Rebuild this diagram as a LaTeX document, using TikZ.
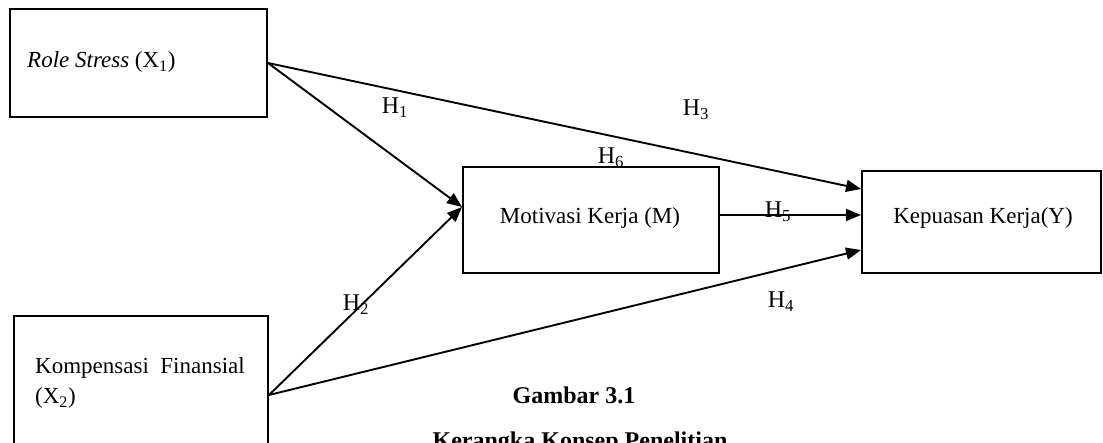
\documentclass[tikz,border=0pt]{standalone}
\usepackage{fontspec}
\setmainfont{Liberation Serif}
\usetikzlibrary{arrows.meta,calc}
\begin{document}
\begin{tikzpicture}[x=1pt,y=-1pt,
  box/.style={draw=black,line width=2pt,rectangle,inner sep=0pt},
  txt/.style={font=\fontsize{23}{29}\selectfont,inner sep=0pt},
  hlab/.style={font=\fontsize{24}{28}\selectfont,inner sep=0pt},
  arr/.style={line width=1.9pt,-{Triangle[length=15pt,width=12pt]}},
  captxt/.style={font=\fontsize{24}{28}\selectfont\bfseries,inner sep=0pt}]
\fill[white] (0,0) rectangle (1103,443);
\useasboundingbox (0,0) rectangle (1103,443);
\clip (0,0) rectangle (1103,443);
% boxes
\node[box,minimum width=257pt,minimum height=108pt] (rs) at (138.5,63) {};
\node[box,minimum width=256pt,minimum height=106pt] (mk) at (591,220) {};
\node[box,minimum width=239pt,minimum height=102pt] (kp) at (981.5,222) {};
\node[box,minimum width=254pt,minimum height=158pt] (kf) at (141,395) {};
% texts
\node[txt,anchor=west] (rst) at (27,62) {\textit{Role Stress} (X\textsubscript{1})};
\node[txt] (mkt) at (590,218) {Motivasi Kerja (M)};
\node[txt] (kpt) at (983,218) {Kepuasan Kerja(Y)};
\node[txt,anchor=west] (kft1) at (35,368) {Kompensasi\ \ Finansial};
\node[txt,anchor=west] (kft2) at (35,398) {(X\textsubscript{2})};
% connector endpoints
\coordinate (m1) at ([yshift=13pt]mk.west);
\coordinate (k3) at ([yshift=33pt]kp.west);
\coordinate (k5) at ([yshift=7pt]kp.west);
\coordinate (k4) at ([yshift=-28pt]kp.west);
\coordinate (m5) at (mk.east |- k5);
% arrows
\draw[arr] (rs.east) -- (m1);
\draw[arr] (kf.east) -- (m1);
\draw[arr] (rs.east) -- (k3);
\draw[arr] (kf.east) -- (k4);
\draw[arr] (m5) -- (k5);
% labels
\node[hlab] (h1) at (395,108) {H\textsubscript{1}};
\node[hlab] (h2) at (356,305) {H\textsubscript{2}};
\node[hlab] (h3) at (696,110) {H\textsubscript{3}};
\node[hlab] (h4) at (781,302) {H\textsubscript{4}};
\node[hlab] (h5) at (778,212) {H\textsubscript{5}};
\node[hlab] (h6) at (611,158) {H\textsubscript{6}};
% caption
\node[captxt] (c1) at (574,395) {Gambar 3.1};
\node[captxt,anchor=base] (c2) at (580,448) {Kerangka Konsep Penelitian};
\end{tikzpicture}
\end{document}
